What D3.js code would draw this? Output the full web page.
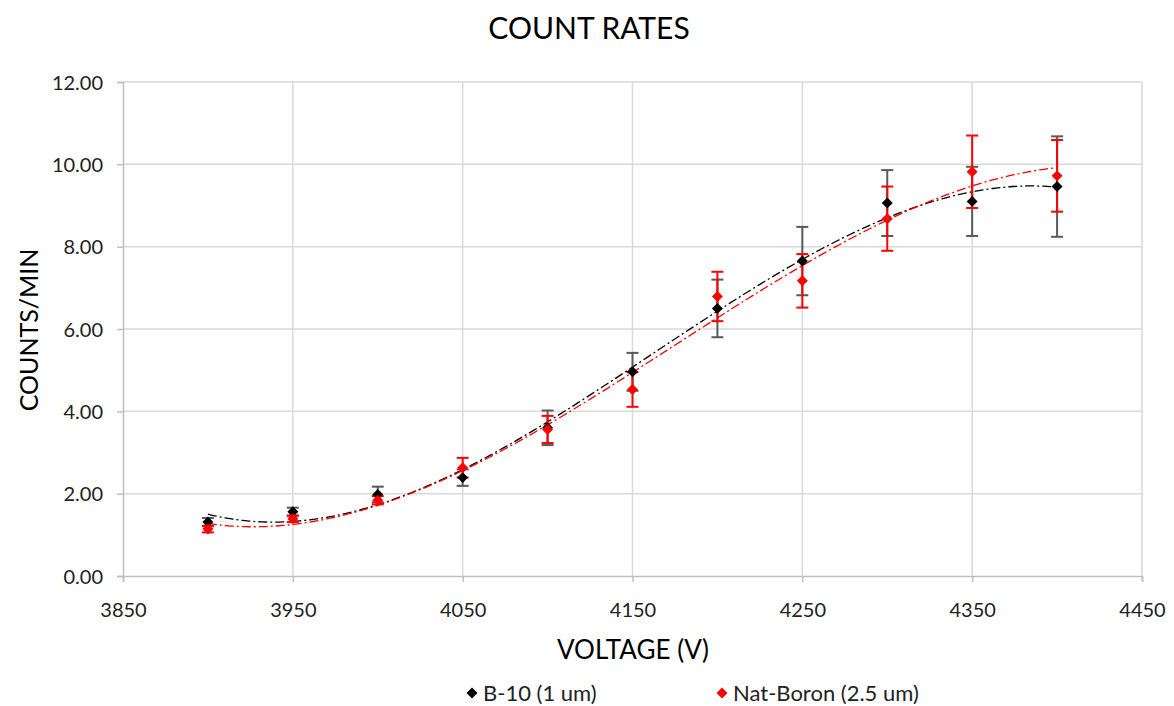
<!DOCTYPE html>
<html><head><meta charset="utf-8">
<script src="https://cdn.jsdelivr.net/npm/d3@7"></script>
<style>body{margin:0;background:#fff;}svg{display:block;font-family:Lato,"Open Sans",sans-serif;}</style>
</head><body>
<svg id="c" width="1174" height="706"></svg>
<script>
const voltages = [3900,3950,4000,4050,4100,4150,4200,4250,4300,4350,4400];
const b10 = [1.31,1.56,1.98,2.39,3.60,4.96,6.50,7.65,9.06,9.10,9.46];
const b10Err = [0.10,0.10,0.19,0.20,0.42,0.46,0.70,0.83,0.80,0.84,1.22];
const natB = [1.14,1.39,1.84,2.63,3.56,4.53,6.79,7.17,8.68,9.82,9.72];
const natBErr = [0.08,0.08,0.10,0.24,0.33,0.42,0.60,0.65,0.78,0.88,0.87];
const xTicks = [3850,3950,4050,4150,4250,4350,4450];
const yTicks = [0,2,4,6,8,10,12];
const seriesNames = ["B-10 (1 um)","Nat-Boron (2.5 um)"];

const svg = d3.select("#c");
const L=123,R=1142,T=82,B=576;
const x = d3.scaleLinear().domain([3850,4450]).range([L,R]);
const y = d3.scaleLinear().domain([0,12]).range([B,T]);

// gridlines
const g = svg.append("g");
g.selectAll(".hg").data(yTicks.filter(d=>d>0)).enter().append("line")
 .attr("x1",L).attr("x2",R).attr("y1",d=>y(d)).attr("y2",d=>y(d))
 .attr("stroke","#d9d9d9").attr("stroke-width",1.5);
g.selectAll(".vg").data(d3.range(3850,4451,100).filter(d=>d>3850)).enter().append("line")
 .attr("x1",d=>x(d)).attr("x2",d=>x(d)).attr("y1",T).attr("y2",B)
 .attr("stroke","#d9d9d9").attr("stroke-width",1.5);

// axes
const yAxis = d3.axisLeft(y).tickValues(yTicks).tickFormat(d3.format(".2f")).tickSize(6).tickPadding(14);
const ya = svg.append("g").attr("transform",`translate(${L},0)`).call(yAxis);
const xAxis = d3.axisBottom(x).tickValues(xTicks).tickFormat(d3.format("d")).tickSize(6);
const xa = svg.append("g").attr("transform",`translate(0,${B})`).call(xAxis);
[ya,xa].forEach(a=>{
  a.select(".domain").attr("stroke","#bfbfbf").attr("stroke-width",1.5);
  a.selectAll(".tick line").attr("stroke","#bfbfbf").attr("stroke-width",1.5);
  a.selectAll(".tick text").attr("fill","#222").style("font-size","20px").style("font-family","Lato,sans-serif");
});
xa.selectAll(".tick text").attr("y",41).attr("dy",0);
ya.selectAll(".tick text").attr("dy","0.36em");

// polynomial fit (cubic least squares)
function polyfit(xs, ys, deg){
  const x0 = 4150, s = 250;
  const n = deg+1;
  const A = Array.from({length:n},()=>new Array(n+1).fill(0));
  xs.forEach((xv,i)=>{
    const t=(xv-x0)/s;
    for(let r=0;r<n;r++){
      for(let c=0;c<n;c++) A[r][c]+=Math.pow(t,r+c);
      A[r][n]+=ys[i]*Math.pow(t,r);
    }
  });
  for(let i=0;i<n;i++){
    let p=i; for(let k=i+1;k<n;k++) if(Math.abs(A[k][i])>Math.abs(A[p][i])) p=k;
    [A[i],A[p]]=[A[p],A[i]];
    for(let k=i+1;k<n;k++){const f=A[k][i]/A[i][i]; for(let c=i;c<=n;c++) A[k][c]-=f*A[i][c];}
  }
  const co=new Array(n).fill(0);
  for(let i=n-1;i>=0;i--){let s2=A[i][n]; for(let c=i+1;c<n;c++) s2-=A[i][c]*co[c]; co[i]=s2/A[i][i];}
  return xv=>{const t=(xv-x0)/s; return co.reduce((a,c,i)=>a+c*Math.pow(t,i),0);};
}

const series = [
  {name:seriesNames[0], vals:b10, err:b10Err, color:"#000", errColor:"#595959", trend:"#000"},
  {name:seriesNames[1], vals:natB, err:natBErr, color:"#ff0000", errColor:"#ff0000", trend:"#ff0000"}
];
const xs = d3.range(3900,4400.1,2);
const line = d3.line().x(d=>x(d[0])).y(d=>y(d[1]));
series.forEach(s=>{
  const f = polyfit(voltages, s.vals, 3);
  svg.append("path").datum(xs.map(v=>[v,f(v)])).attr("d",line)
    .attr("fill","none").attr("stroke",s.trend).attr("stroke-width",1.3)
    .attr("stroke-dasharray","9,3,2,3");
});
series.forEach(s=>{
  const eg = svg.append("g");
  voltages.forEach((v,i)=>{
    const cx=x(v), y1=y(s.vals[i]+s.err[i]), y2=y(s.vals[i]-s.err[i]);
    eg.append("line").attr("x1",cx).attr("x2",cx).attr("y1",y1).attr("y2",y2).attr("stroke",s.errColor).attr("stroke-width",2);
    [y1,y2].forEach(yy=>eg.append("line").attr("x1",cx-6).attr("x2",cx+6).attr("y1",yy).attr("y2",yy).attr("stroke",s.errColor).attr("stroke-width",2));
  });
});
series.forEach(s=>{
  svg.append("g").selectAll("path").data(voltages).enter().append("path")
   .attr("d",d3.symbol().type(d3.symbolSquare).size(60))
   .attr("transform",(d,i)=>`translate(${x(d)},${y(s.vals[i])}) rotate(45)`)
   .attr("fill",s.color);
});

// titles
svg.append("text").attr("x",589).attr("y",39).attr("text-anchor","middle")
  .style("font-size","30px").attr("fill","#000").text("COUNT RATES");
svg.append("text").attr("x",633).attr("y",659).attr("text-anchor","middle")
  .style("font-size","26px").attr("fill","#000").text("VOLTAGE (V)");
svg.append("text").attr("transform","translate(38,330) rotate(-90)").attr("text-anchor","middle")
  .style("font-size","25px").attr("fill","#000").text("COUNTS/MIN");

// legend
const lg = svg.append("g");
const lx=[472,722];
series.forEach((s,i)=>{
  lg.append("path").attr("d",d3.symbol().type(d3.symbolSquare).size(60))
    .attr("transform",`translate(${lx[i]},693) rotate(45)`).attr("fill",s.color);
  lg.append("text").attr("x",lx[i]+11).attr("y",701).style("font-size","22px").attr("fill","#222").text(s.name);
});
</script>
</body></html>
